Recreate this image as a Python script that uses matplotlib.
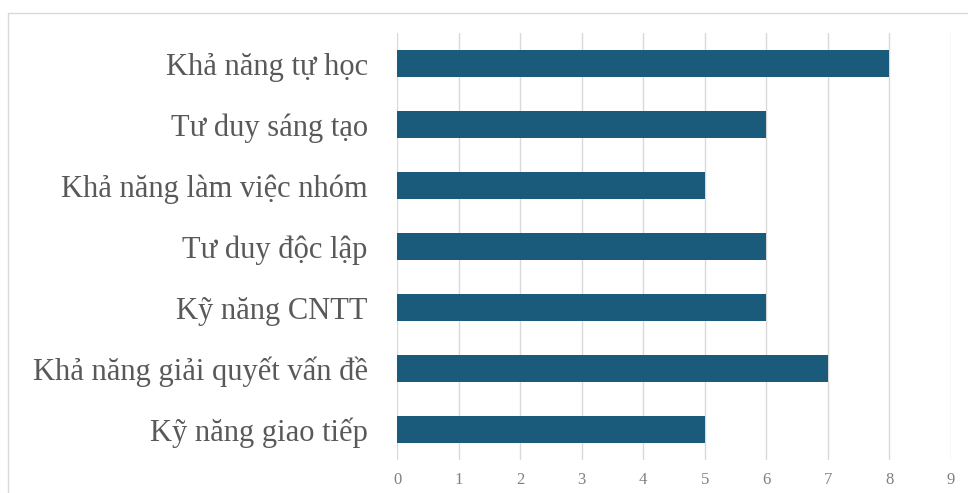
import matplotlib
matplotlib.use("Agg")
import matplotlib.pyplot as plt
from matplotlib.patches import Rectangle

categories = ["Kỹ năng giao tiếp", "Khả năng giải quyết vấn đề", "Kỹ năng CNTT",
              "Tư duy độc lập", "Khả năng làm việc nhóm", "Tư duy sáng tạo",
              "Khả năng tự học"]
values = [5, 7, 6, 6, 5, 6, 8]
xticks = [0, 1, 2, 3, 4, 5, 6, 7, 8, 9]

fig = plt.figure(figsize=(9.68, 4.93), dpi=100)
fig.patches.append(Rectangle((8/968, -0.1), 1.2, 1 - 13/493 + 0.1,
                             transform=fig.transFigure, fill=False,
                             edgecolor="#d9d9d9", linewidth=1.0))
ax = fig.add_axes([397/968, 1 - 460/493, (951 - 397)/968, (460 - 33)/493])
ax.barh(range(len(categories)), values, height=0.43, color="#1a5b7c", zorder=3)
ax.set_xlim(0, 9)
ax.set_ylim(-0.5, 6.5)
ax.set_xticks(xticks)
ax.set_xticklabels([str(t) for t in xticks], fontfamily="Liberation Serif",
                   fontsize=12, color="#808080")
ax.set_yticks(range(len(categories)))
ax.set_yticklabels(categories, fontfamily="Liberation Serif", fontsize=22,
                   color="#595959")
ax.tick_params(axis="both", length=0)
ax.tick_params(axis="y", pad=21)
ax.tick_params(axis="x", pad=9)
ax.grid(axis="x", color="#d9d9d9", linewidth=1.0, zorder=0)
for s in ax.spines.values():
    s.set_visible(False)
fig.savefig("out.png", dpi=100)
